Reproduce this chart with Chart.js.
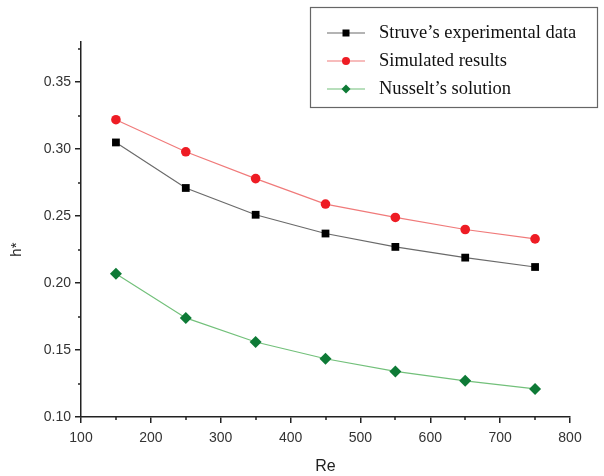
<!DOCTYPE html>
<html>
<head>
<meta charset="utf-8">
<script src="https://cdn.jsdelivr.net/npm/chart.js@4.4.1/dist/chart.umd.min.js"></script>
<style>
html,body{margin:0;padding:0;background:#fff;}
#wrap{width:604px;height:476px;position:relative;}
</style>
</head>
<body>
<div id="wrap"><canvas id="c" width="604" height="476"></canvas></div>
<script>
const reValues = [150, 250, 350, 450, 550, 650, 750];
const struveData = [0.305, 0.271, 0.251, 0.237, 0.227, 0.219, 0.212];
const simulatedData = [0.322, 0.298, 0.278, 0.259, 0.249, 0.240, 0.233];
const nusseltData = [0.207, 0.174, 0.156, 0.1435, 0.134, 0.127, 0.121];
const seriesNames = ["Struve\u2019s experimental data", "Simulated results", "Nusselt\u2019s solution"];
const xTicks = [100, 200, 300, 400, 500, 600, 700, 800];
const xMinorTicks = [150, 250, 350, 450, 550, 650, 750];
const yTicks = [0.10, 0.15, 0.20, 0.25, 0.30, 0.35];
const yMinorTicks = [0.125, 0.175, 0.225, 0.275, 0.325, 0.375];
const yTitle = 'h*';

const toPts = arr => arr.map((v, i) => ({x: reValues[i], y: v}));

const minorTicksPlugin = {
  id: 'minorTicks',
  afterDraw(chart) {
    const ctx = chart.ctx;
    const xs = chart.scales.x, ys = chart.scales.y;
    ctx.save();
    ctx.strokeStyle = '#222';
    ctx.lineWidth = 1.5;
    ctx.beginPath();
    xMinorTicks.forEach(v => {
      const px = Math.round(xs.getPixelForValue(v));
      ctx.moveTo(px, ys.bottom);
      ctx.lineTo(px, ys.bottom + 3);
    });
    yMinorTicks.forEach(v => {
      const py = Math.round(ys.getPixelForValue(v));
      ctx.moveTo(xs.left, py);
      ctx.lineTo(xs.left - 3, py);
    });
    ctx.stroke();
    // y axis title, centred on the labelled tick range
    const yc = (ys.getPixelForValue(yTicks[0]) + ys.getPixelForValue(yTicks[yTicks.length - 1])) / 2;
    ctx.translate(17, yc);
    ctx.rotate(-Math.PI / 2);
    ctx.fillStyle = '#222';
    ctx.font = '15px Arial, "Liberation Sans", sans-serif';
    ctx.textAlign = 'center';
    ctx.textBaseline = 'middle';
    ctx.fillText(yTitle, 0, 0);
    ctx.restore();
  }
};

const boxLegendPlugin = {
  id: 'boxLegend',
  afterDraw(chart) {
    const ctx = chart.ctx;
    ctx.save();
    ctx.fillStyle = '#fff';
    ctx.fillRect(310, 7, 288, 101);
    ctx.strokeStyle = '#666';
    ctx.lineWidth = 1.2;
    ctx.strokeRect(310.5, 7.5, 287, 100);
    const rows = [33, 61, 89];
    chart.data.datasets.forEach((ds, i) => {
      const y = rows[i];
      ctx.strokeStyle = ds.borderColor;
      ctx.lineWidth = 1.2;
      ctx.beginPath();
      ctx.moveTo(327, y);
      ctx.lineTo(365, y);
      ctx.stroke();
      ctx.fillStyle = ds.pointBackgroundColor;
      ctx.beginPath();
      if (ds.pointStyle === 'rect') {
        const r = 3.5;
        ctx.rect(346 - r, y - r, 2 * r, 2 * r);
      } else if (ds.pointStyle === 'circle') {
        ctx.arc(346, y, 4, 0, Math.PI * 2);
      } else {
        const r = 4.5;
        ctx.moveTo(346, y - r); ctx.lineTo(346 + r, y); ctx.lineTo(346, y + r); ctx.lineTo(346 - r, y); ctx.closePath();
      }
      ctx.fill();
      ctx.fillStyle = '#111';
      ctx.font = '18.5px "Liberation Serif", "Times New Roman", serif';
      ctx.textBaseline = 'middle';
      ctx.textAlign = 'left';
      ctx.fillText(ds.label, 379, y);
    });
    ctx.restore();
  }
};

new Chart(document.getElementById('c'), {
  type: 'line',
  data: {
    datasets: [
      {
        label: seriesNames[0],
        data: toPts(struveData),
        borderColor: '#6a6a6a',
        borderWidth: 1.2,
        pointStyle: 'rect',
        pointRadius: 5.5,
        pointBackgroundColor: '#000',
        pointBorderColor: '#000',
        pointBorderWidth: 0,
        tension: 0
      },
      {
        label: seriesNames[1],
        data: toPts(simulatedData),
        borderColor: '#f07a7a',
        borderWidth: 1.2,
        pointStyle: 'circle',
        pointRadius: 4.8,
        pointBackgroundColor: '#ee1c24',
        pointBorderColor: '#ee1c24',
        pointBorderWidth: 0,
        tension: 0
      },
      {
        label: seriesNames[2],
        data: toPts(nusseltData),
        borderColor: '#72c07a',
        borderWidth: 1.2,
        pointStyle: 'rectRot',
        pointRadius: 6,
        pointBackgroundColor: '#0e7a36',
        pointBorderColor: '#0e7a36',
        pointBorderWidth: 0,
        tension: 0
      }
    ]
  },
  options: {
    responsive: false,
    animation: false,
    devicePixelRatio: 1,
    layout: { padding: { left: 0, right: 34, top: 42, bottom: 0 } },
    plugins: {
      legend: { display: false },
      tooltip: { enabled: false }
    },
    scales: {
      x: {
        type: 'linear',
        min: 100,
        max: 800,
        afterBuildTicks: s => { s.ticks = xTicks.map(v => ({value: v})); },
        afterFit: s => { s.height = 59; },
        grid: { drawOnChartArea: false, drawTicks: true, tickLength: 6, color: '#222', lineWidth: 1.5 },
        border: { display: true, color: '#222', width: 1.5 },
        ticks: { color: '#333', font: { family: 'Arial, "Liberation Sans", sans-serif', size: 14 }, padding: 7, maxRotation: 0 },
        title: { display: true, text: 'Re', color: '#222', font: { family: 'Arial, "Liberation Sans", sans-serif', size: 16 }, padding: { top: 4, bottom: 0 } }
      },
      y: {
        type: 'linear',
        min: 0.10,
        max: 0.38,
        afterBuildTicks: s => { s.ticks = yTicks.map(v => ({value: v})); },
        afterFit: s => { s.width = 81; },
        grid: { drawOnChartArea: false, drawTicks: true, tickLength: 6, color: '#222', lineWidth: 1.5 },
        border: { display: true, color: '#222', width: 1.5 },
        ticks: { color: '#333', font: { family: 'Arial, "Liberation Sans", sans-serif', size: 14 }, padding: 4, callback: v => Number(v).toFixed(2) },
        title: { display: false }
      }
    }
  },
  plugins: [minorTicksPlugin, boxLegendPlugin]
});
</script>
</body>
</html>
